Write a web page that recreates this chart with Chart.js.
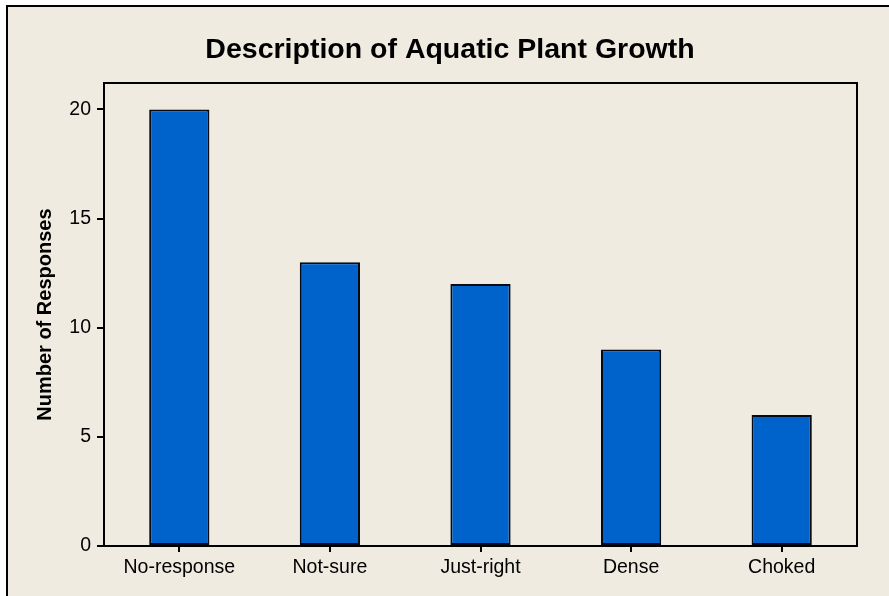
<!DOCTYPE html>
<html>
<head>
<meta charset="utf-8">
<script src="https://cdn.jsdelivr.net/npm/chart.js@4"></script>
<style>
  body { margin: 0; background: #fff; }
  #frame {
    position: absolute; left: 6px; top: 5px;
    width: 881px; height: 589px;
    border-left: 2px solid #000; border-top: 2px solid #000;
    background: #efebe1; overflow: hidden;
  }
</style>
</head>
<body>
<div id="frame"><canvas id="chart" width="881" height="589"></canvas></div>
<script>
const categories = ['No-response', 'Not-sure', 'Just-right', 'Dense', 'Choked'];
const responses = [20, 13, 12, 9, 6];
const yTicks = [0, 5, 10, 15, 20];

const fontFamily = "'Liberation Sans', Arial, sans-serif";

document.addEventListener('DOMContentLoaded', function() {
    const ctx = document.getElementById('chart').getContext('2d');
    new Chart(ctx, {
        type: 'bar',
        data: {
            labels: categories,
            datasets: [{
                label: 'Number of Responses',
                data: responses,
                backgroundColor: '#0063cc',
                borderColor: '#050a14',
                borderWidth: 2,
                borderSkipped: false,
                barPercentage: 0.4,
                categoryPercentage: 1.0
            }]
        },
        options: {
            responsive: false,
            animation: false,
            layout: { padding: { left: 3, right: 0, top: 0, bottom: 0 } },
            plugins: {
                legend: { display: false },
                tooltip: { enabled: false },
                title: {
                    display: true,
                    text: 'Description of Aquatic Plant Growth',
                    color: '#000',
                    font: { family: fontFamily, size: 28.5, weight: 'bold' },
                    padding: { top: 26, bottom: 16 }
                }
            },
            scales: {
                x: {
                    position: 'bottom',
                    afterFit: s => { s.height = 50; },
                    grid: {
                        display: true, drawOnChartArea: false, drawTicks: true,
                        tickLength: 6, color: '#000', lineWidth: 2, offset: false
                    },
                    border: { display: true, color: '#000', width: 2 },
                    ticks: {
                        color: '#000', padding: 4, maxRotation: 0,
                        font: { family: fontFamily, size: 19.5 }
                    }
                },
                y: {
                    position: 'left',
                    min: 0,
                    max: 21.2,
                    afterFit: s => { s.width = 93; },
                    afterBuildTicks: s => { s.ticks = yTicks.map(v => ({ value: v })); },
                    grid: {
                        display: true, drawOnChartArea: false, drawTicks: true,
                        tickLength: 7, color: '#000', lineWidth: 2
                    },
                    border: { display: true, color: '#000', width: 2 },
                    ticks: {
                        color: '#000', padding: 6,
                        font: { family: fontFamily, size: 19.5 }
                    },
                    title: {
                        display: true,
                        text: 'Number of Responses',
                        color: '#000',
                        font: { family: fontFamily, size: 20, weight: 'bold' },
                        padding: { top: 22, bottom: 0 }
                    }
                },
                // plain axes used only to close the plot frame on top and right
                xTop: {
                    type: 'linear', position: 'top',
                    afterFit: s => { s.height = 0; },
                    grid: { display: false },
                    ticks: { display: false },
                    border: { display: true, color: '#000', width: 2 }
                },
                yRight: {
                    type: 'linear', position: 'right',
                    afterFit: s => { s.width = 32; },
                    grid: { display: false },
                    ticks: { display: false },
                    border: { display: true, color: '#000', width: 2 }
                }
            }
        }
    });
});
</script>
</body>
</html>
